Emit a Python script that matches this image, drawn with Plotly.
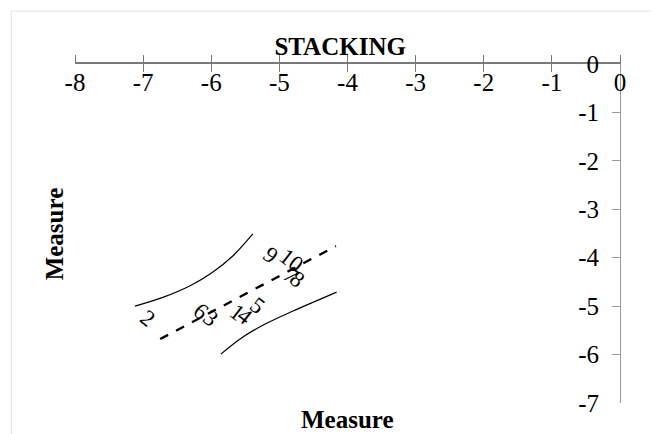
import plotly.graph_objects as go

# point labels and positions
point_labels = ["1", "2", "3", "4", "5", "6", "7", "8", "9", "10"]
point_x = [-5.62, -6.93, -6.00, -5.50, -5.32, -6.15, -4.83, -4.74, -5.12, -4.82]
point_y = [-5.14, -5.25, -5.25, -5.21, -4.98, -5.11, -4.36, -4.46, -3.95, -4.05]

# fitted trend line
trend_x = [-6.75, -4.17]
trend_y = [-5.68, -3.76]

# upper and lower confidence curves
upper_x = [-7.12, -6.71, -6.31, -5.98, -5.68, -5.39]
upper_y = [-5.00, -4.82, -4.58, -4.30, -3.96, -3.51]
lower_x = [-5.86, -5.54, -5.18, -4.80, -4.44, -4.16]
lower_y = [-5.99, -5.64, -5.35, -5.10, -4.88, -4.71]

x_ticks = [-8, -7, -6, -5, -4, -3, -2, -1, 0]
x_tick_text = ["-8", "-7", "-6", "-5", "-4", "-3", "-2", "-1", "0"]
y_ticks = [-7, -6, -5, -4, -3, -2, -1, 0]
y_tick_text = ["-7", "-6", "-5", "-4", "-3", "-2", "-1", "0"]

FONT = "Liberation Serif"
AXC = "#7a7a7a"

fig = go.Figure()
fig.add_trace(go.Scatter(x=upper_x, y=upper_y, mode="lines",
                         line=dict(color="black", width=1.2, shape="spline", smoothing=1.0),
                         hoverinfo="skip"))
fig.add_trace(go.Scatter(x=lower_x, y=lower_y, mode="lines",
                         line=dict(color="black", width=1.2, shape="spline", smoothing=1.0),
                         hoverinfo="skip"))
fig.add_trace(go.Scatter(x=trend_x, y=trend_y, mode="lines",
                         line=dict(color="black", width=2.3, dash="dash"), hoverinfo="skip"))
fig.add_trace(go.Scatter(x=[None], y=[None], xaxis="x2", showlegend=False))

for t, x, y in zip(point_labels, point_x, point_y):
    fig.add_annotation(x=x, y=y, text=t, showarrow=False, textangle=38,
                       font=dict(family=FONT, size=23, color="black"))

fig.update_layout(
    width=659, height=434,
    margin=dict(l=67, r=47, t=56, b=39),
    paper_bgcolor="white", plot_bgcolor="white",
    showlegend=False,
    font=dict(family=FONT, color="black", size=20),
    title=dict(text="<b>STACKING</b>", x=0.504, xanchor="center", y=0.912, yanchor="middle",
               font=dict(family=FONT, size=25, color="black")),
    xaxis=dict(range=[-8, 0], side="top", tickvals=x_ticks, ticktext=x_tick_text,
               ticks="inside", ticklen=8, tickcolor=AXC, tickwidth=1.3,
               showline=True, linecolor=AXC, linewidth=2,
               showgrid=False, zeroline=False, ticklabelposition="inside",
               ticklabeloverflow="allow", ticklabelstandoff=3,
               tickfont=dict(family=FONT, size=25, color="black"), title=None),
    xaxis2=dict(range=[-8, 0], side="top", overlaying="x", tickvals=x_ticks,
                ticks="outside", ticklen=8, tickcolor=AXC, tickwidth=1.3,
                showticklabels=False, showgrid=False, zeroline=False, showline=False),
    yaxis=dict(range=[-7, 0], side="right", tickvals=y_ticks,
               ticktext=[t + "\u2009" for t in y_tick_text],
               ticks="inside", ticklen=8, tickcolor="#9a9a9a", tickwidth=1,
               showline=True, linecolor="#9a9a9a", linewidth=1,
               showgrid=False, zeroline=False, ticklabelposition="inside",
               ticklabeloverflow="allow", ticklabelstandoff=10,
               tickfont=dict(family=FONT, size=25, color="black"), title=None),
)

fig.add_annotation(text="<b>Measure</b>", xref="paper", yref="paper", x=0.5, y=-0.05,
                   xanchor="center", yanchor="middle", showarrow=False,
                   font=dict(family=FONT, size=25, color="black"))
fig.add_annotation(text="<b>Measure</b>", xref="paper", yref="paper", x=-0.037, y=0.5,
                   xanchor="center", yanchor="middle", showarrow=False, textangle=-90,
                   font=dict(family=FONT, size=25, color="black"))

# faint chart-area frame
fig.add_shape(type="line", xref="paper", yref="paper", x0=-0.117, x1=1.2, y0=1.156, y1=1.156,
              line=dict(color="#e0e0e0", width=1))
fig.add_shape(type="line", xref="paper", yref="paper", x0=-0.117, x1=-0.117, y0=-0.2, y1=1.156,
              line=dict(color="#e0e0e0", width=1))

fig.write_html("out.html")
